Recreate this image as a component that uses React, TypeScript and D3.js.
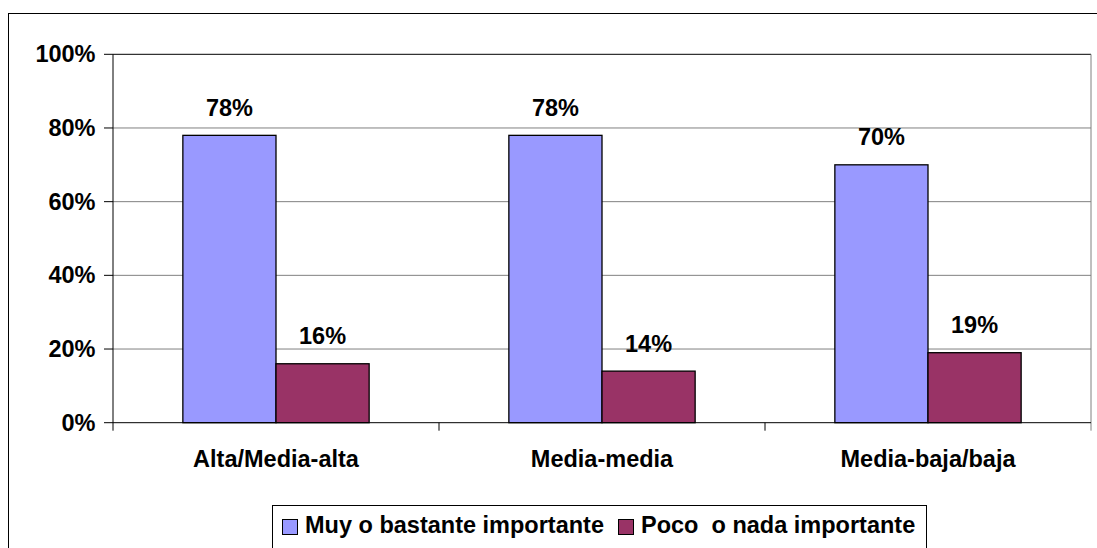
import React from "react";
import * as d3 from "d3";

const categories = ["Alta/Media-alta", "Media-media", "Media-baja/baja"];
const seriesNames = ["Muy o bastante importante", "Poco  o nada importante"];
const muyValues = [78, 78, 70];
const pocoValues = [16, 14, 19];
const yTicks = [0, 20, 40, 60, 80, 100];
const colors = ["#9999FF", "#993366"];

export default function App() {
  const W = 1097;
  const H = 548;
  const left = 113, right = 1091, top = 54.3, bottom = 422.7;
  const font = "'Liberation Sans', Arial, sans-serif";
  const fs = 23.5;

  const x0 = d3.scaleBand<string>().domain(categories).range([left, right]).paddingInner(0).paddingOuter(0);
  const bw = x0.bandwidth() / 3.5;
  const y = d3.scaleLinear().domain([0, 100]).range([bottom, top]);
  const series = [muyValues, pocoValues];

  return (
    <svg width={W} height={H} style={{ position: "absolute", left: 0, top: 0, background: "#fff" }}>
      <rect x={8.5} y={13.5} width={W + 10} height={H + 10} fill="#fff" stroke="#000" strokeWidth={1} />
      {yTicks.filter((t) => t > 0).map((t) => (
        <line key={t} x1={left} x2={right} y1={y(t)} y2={y(t)} stroke={t === 100 ? "#000" : "#808080"} strokeWidth={1} />
      ))}
      <line x1={right} x2={right} y1={top} y2={bottom + 8} stroke="#808080" strokeWidth={1} />
      {series.map((vals, si) =>
        categories.map((c, ci) => {
          const bx = (x0(c) as number) + 0.75 * bw + si * bw;
          return (
            <g key={`${si}-${ci}`}>
              <rect x={bx} y={y(vals[ci])} width={bw} height={bottom - y(vals[ci])} fill={colors[si]} stroke="#000" strokeWidth={1.3} />
              <text x={bx + bw / 2} y={y(vals[ci]) - 19.5} textAnchor="middle" fontFamily={font} fontWeight="bold" fontSize={fs}>
                {vals[ci]}%
              </text>
            </g>
          );
        })
      )}
      <line x1={left} x2={left} y1={top} y2={bottom + 8} stroke="#000" strokeWidth={1} />
      <line x1={left} x2={right} y1={bottom} y2={bottom} stroke="#000" strokeWidth={1} />
      {yTicks.map((t) => (
        <g key={t}>
          <line x1={left - 9} x2={left} y1={y(t)} y2={y(t)} stroke="#000" />
          <text x={95.5} y={y(t) + 8} textAnchor="end" fontFamily={font} fontWeight="bold" fontSize={fs}>
            {t}%
          </text>
        </g>
      ))}
      {categories.map((c, i) => (
        <g key={c}>
          {i > 0 && <line x1={x0(c) as number} x2={x0(c) as number} y1={bottom} y2={bottom + 8} stroke="#000" />}
          <text x={(x0(c) as number) + x0.bandwidth() / 2} y={467} textAnchor="middle" fontFamily={font} fontWeight="bold" fontSize={fs}>
            {c}
          </text>
        </g>
      ))}
      <rect x={272.5} y={505.5} width={654} height={60} fill="#fff" stroke="#000" strokeWidth={1} />
      {[282, 618].map((lx, i) => (
        <g key={i}>
          <rect x={lx + 0.5} y={519.5} width={15} height={15} fill={colors[i]} stroke="#000" strokeWidth={1} />
          <text x={lx + 23} y={533} fontFamily={font} fontWeight="bold" fontSize={fs} style={{ whiteSpace: "pre" }}>
            {seriesNames[i]}
          </text>
        </g>
      ))}
    </svg>
  );
}
